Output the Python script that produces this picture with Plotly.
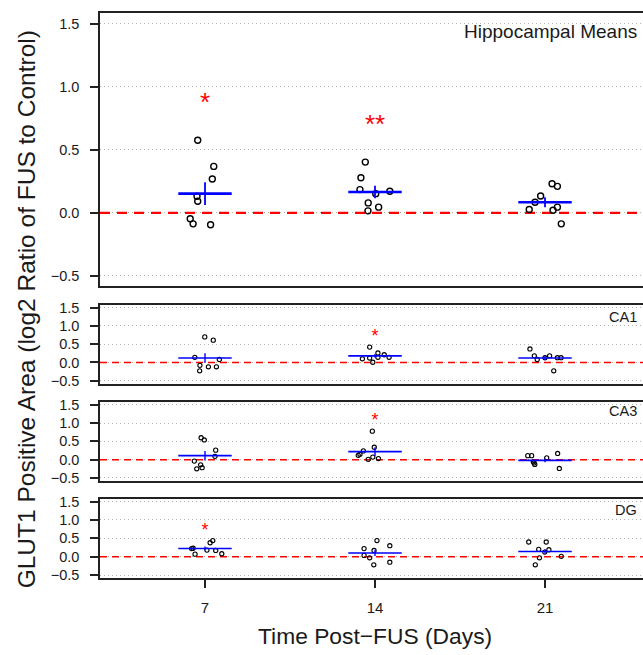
import plotly.graph_objects as go

# ---------------- data ----------------
days = [7, 14, 21]
panel_names = ["Hippocampal Means", "CA1", "CA3", "DG"]
tick_vals = [-0.5, 0.0, 0.5, 1.0, 1.5]
tick_text = ["\u22120.5", "0.0", "0.5", "1.0", "1.5"]
x_tick_text = ["7", "14", "21"]

# Hippocampal means: per-animal values and horizontal jitter (days)
hip_d7 = [0.575, 0.368, 0.268, 0.131, 0.092, -0.047, -0.087, -0.094]
hip_d7_jit = [-0.30, 0.36, 0.30, -0.33, -0.30, -0.61, -0.49, 0.23]
hip_d14 = [0.402, 0.278, 0.184, 0.152, 0.171, 0.079, 0.045, 0.016]
hip_d14_jit = [-0.40, -0.58, -0.62, 0.03, 0.61, -0.28, 0.15, -0.29]
hip_d21 = [0.231, 0.210, 0.134, 0.084, 0.026, 0.021, 0.045, -0.087]
hip_d21_jit = [0.29, 0.51, -0.18, -0.41, -0.65, 0.33, 0.51, 0.67]
hip_mean = [0.152, 0.165, 0.084]
hip_se = [0.09, 0.05, 0.04]

# CA1
ca1_d7 = [0.70, 0.61, 0.14, 0.08, -0.08, -0.12, -0.12, -0.23]
ca1_d7_jit = [-0.01, 0.34, -0.42, 0.59, -0.21, 0.14, 0.47, -0.22]
ca1_d14 = [0.42, 0.26, 0.21, 0.10, 0.12, 0.005, 0.14, 0.14]
ca1_d14_jit = [-0.22, 0.12, 0.38, -0.52, -0.22, -0.09, 0.12, 0.58]
ca1_d21 = [0.37, 0.18, 0.08, 0.13, 0.18, 0.13, 0.13, -0.23]
ca1_d21_jit = [-0.62, -0.44, -0.32, 0.0, 0.19, 0.51, 0.66, 0.36]
ca1_mean = [0.12, 0.18, 0.12]
ca1_se = [0.13, 0.05, 0.06]

# CA3
ca3_d7 = [0.60, 0.54, 0.26, 0.09, -0.04, -0.14, -0.22, -0.25]
ca3_d7_jit = [-0.16, -0.03, 0.44, 0.41, -0.44, -0.18, -0.12, -0.34]
ca3_d14 = [0.78, 0.34, 0.24, 0.15, 0.12, 0.07, 0.01, 0.03]
ca3_d14_jit = [-0.11, -0.03, -0.48, -0.62, -0.69, -0.09, -0.28, 0.14]
ca3_d21 = [0.11, 0.11, -0.06, -0.09, -0.13, 0.05, 0.17, -0.24]
ca3_d21_jit = [-0.71, -0.55, -0.48, -0.45, -0.42, 0.07, 0.52, 0.59]
ca3_mean = [0.11, 0.22, -0.02]
ca3_se = [0.13, 0.12, 0.05]

# DG
dg_d7 = [0.22, 0.23, 0.07, 0.18, 0.38, 0.44, 0.17, 0.08]
dg_d7_jit = [-0.55, -0.49, -0.41, 0.08, 0.21, 0.32, 0.44, 0.69]
dg_d14 = [0.44, 0.30, 0.22, 0.17, 0.035, -0.03, -0.15, -0.22]
dg_d14_jit = [0.08, 0.61, -0.45, -0.04, -0.45, -0.22, 0.61, -0.05]
dg_d21 = [0.40, 0.40, 0.20, 0.19, 0.125, -0.03, 0.01, -0.22]
dg_d21_jit = [-0.67, 0.05, -0.26, 0.16, -0.01, -0.23, 0.67, -0.40]
dg_mean = [0.225, 0.10, 0.14]
dg_se = [0.05, 0.08, 0.06]

# significance stars: (day, label, level)
hip_stars = [(7, "*", 0.874), (14, "**", 0.695)]
ca1_stars = [(14, "*", 0.72)]
ca3_stars = [(14, "*", 1.08)]
dg_stars = [(7, "*", 0.733)]

# ---------------- layout constants ----------------
W, H = 643, 655
ML, MR, MT, MB = 100, 0, 0, 77
PH = H - MT - MB  # plot height in px
x_range = [2.676, 25.035]
y_range = [-0.58, 1.58]


def py(pix):  # pixel row -> paper y
    return (H - MB - pix) / PH


def px(pix):  # pixel col -> paper x
    return (pix - ML) / (W - ML - MR)


panel_px = [(8.5, 283.5), (302.4, 381.9), (400.4, 480), (498, 578)]
panels = [
    dict(vals=[hip_d7, hip_d14, hip_d21], jit=[hip_d7_jit, hip_d14_jit, hip_d21_jit],
         mean=hip_mean, se=hip_se, stars=hip_stars, big=True),
    dict(vals=[ca1_d7, ca1_d14, ca1_d21], jit=[ca1_d7_jit, ca1_d14_jit, ca1_d21_jit],
         mean=ca1_mean, se=ca1_se, stars=ca1_stars, big=False),
    dict(vals=[ca3_d7, ca3_d14, ca3_d21], jit=[ca3_d7_jit, ca3_d14_jit, ca3_d21_jit],
         mean=ca3_mean, se=ca3_se, stars=ca3_stars, big=False),
    dict(vals=[dg_d7, dg_d14, dg_d21], jit=[dg_d7_jit, dg_d14_jit, dg_d21_jit],
         mean=dg_mean, se=dg_se, stars=dg_stars, big=False),
]

FONT = "Liberation Sans, Arial, Helvetica, sans-serif"
fig = go.Figure()
layout = dict(
    width=W, height=H, margin=dict(l=ML, r=MR, t=MT, b=MB),
    paper_bgcolor="white", plot_bgcolor="white", showlegend=False,
    font=dict(family=FONT, color="#1a1a1a"),
)
annotations = []
half = 1.1

for i, p in enumerate(panels):
    n = "" if i == 0 else str(i + 1)
    xa, ya = "x" + n, "y" + n
    big = p["big"]
    top, bot = panel_px[i]
    pxh = bot - top
    unit_px = pxh / (y_range[1] - y_range[0])

    # red zero reference line (drawn first, under the data)
    fig.add_trace(go.Scatter(
        x=x_range, y=[0, 0], mode="lines", xaxis=xa, yaxis=ya, hoverinfo="skip",
        line=dict(color="#ff0000", width=2.2 if big else 1.5,
                  dash="10px,7px" if big else "7px,5px")))

    # points
    xs, ys = [], []
    for d, vals, jit in zip(days, p["vals"], p["jit"]):
        xs += [d + j for j in jit]
        ys += vals
    fig.add_trace(go.Scatter(
        x=xs, y=ys, mode="markers", xaxis=xa, yaxis=ya,
        marker=dict(symbol="circle-open", size=6 if big else 4.2, color="black",
                    line=dict(width=1.4 if big else 1.1, color="black")),
        hoverinfo="skip"))

    # mean lines
    mx, my = [], []
    for d, m in zip(days, p["mean"]):
        mx += [d - half, d + half, None]
        my += [m, m, None]
    fig.add_trace(go.Scatter(x=mx, y=my, mode="lines", xaxis=xa, yaxis=ya,
                             line=dict(color="#0000ff", width=2.6 if big else 1.6),
                             hoverinfo="skip"))
    # SE bars
    sx, sy = [], []
    for d, m, s in zip(days, p["mean"], p["se"]):
        sx += [d, d, None]
        sy += [m - s, m + s, None]
    fig.add_trace(go.Scatter(x=sx, y=sy, mode="lines", xaxis=xa, yaxis=ya,
                             line=dict(color="#0000ff", width=1.8 if big else 1.4),
                             hoverinfo="skip"))

    # stars
    fs = 26 if big else 18
    shift = 0.07 * fs / unit_px
    fig.add_trace(go.Scatter(
        x=[s[0] for s in p["stars"]], y=[s[2] - shift for s in p["stars"]],
        text=[s[1] for s in p["stars"]], mode="text", textposition="middle center",
        textfont=dict(color="#ff0000", size=fs, family=FONT),
        xaxis=xa, yaxis=ya, hoverinfo="skip"))

    last = i == 3
    layout["xaxis" + n] = dict(
        domain=[0, 1], range=x_range, anchor=ya, showgrid=False, zeroline=False,
        showline=True, mirror=True, linecolor="#222", linewidth=1.6,
        tickvals=days if last else [], ticktext=x_tick_text if last else [],
        ticks="outside" if last else "", ticklen=8, tickwidth=1.5, tickcolor="#222",
        showticklabels=last, tickfont=dict(size=15, family=FONT, color="#1a1a1a"),
        ticklabelstandoff=7,
    )
    layout["yaxis" + n] = dict(
        domain=[py(bot), py(top)], range=y_range, anchor=xa, zeroline=False,
        showline=True, mirror=False, linecolor="#222", linewidth=1.6,
        tickvals=tick_vals, ticktext=tick_text, ticks="outside", ticklen=8,
        tickwidth=1.5, tickcolor="#222",
        tickfont=dict(size=14.5, family=FONT, color="#1a1a1a"), ticklabelstandoff=8,
        showgrid=True, gridcolor="#b0b0b0", gridwidth=1, griddash="1px,3px",
    )

    # panel label
    annotations.append(dict(
        text=panel_names[i], xref="paper", yref="paper", showarrow=False,
        x=px(639), xanchor="right",
        y=py([27, 315, 410, 509][i]), yanchor="middle",
        font=dict(size=19 if big else 14.5, family=FONT, color="#1a1a1a")))

annotations.append(dict(
    text="GLUT1 Positive Area (log2 Ratio of FUS to Control)", xref="paper", yref="paper",
    x=px(26), y=py(307), showarrow=False, textangle=-90, xanchor="center", yanchor="middle",
    font=dict(size=24.5, family=FONT, color="#1a1a1a")))
annotations.append(dict(
    text="Time Post\u2212FUS (Days)", xref="paper", yref="paper",
    x=px(375), y=py(637), showarrow=False, xanchor="center", yanchor="middle",
    font=dict(size=22.8, family=FONT, color="#1a1a1a")))

layout["annotations"] = annotations
fig.update_layout(**layout)
fig.write_html(
    "out.html",
    config={"displayModeBar": False},
    post_script="document.body.style.margin='0';document.body.style.overflow='hidden';",
)
